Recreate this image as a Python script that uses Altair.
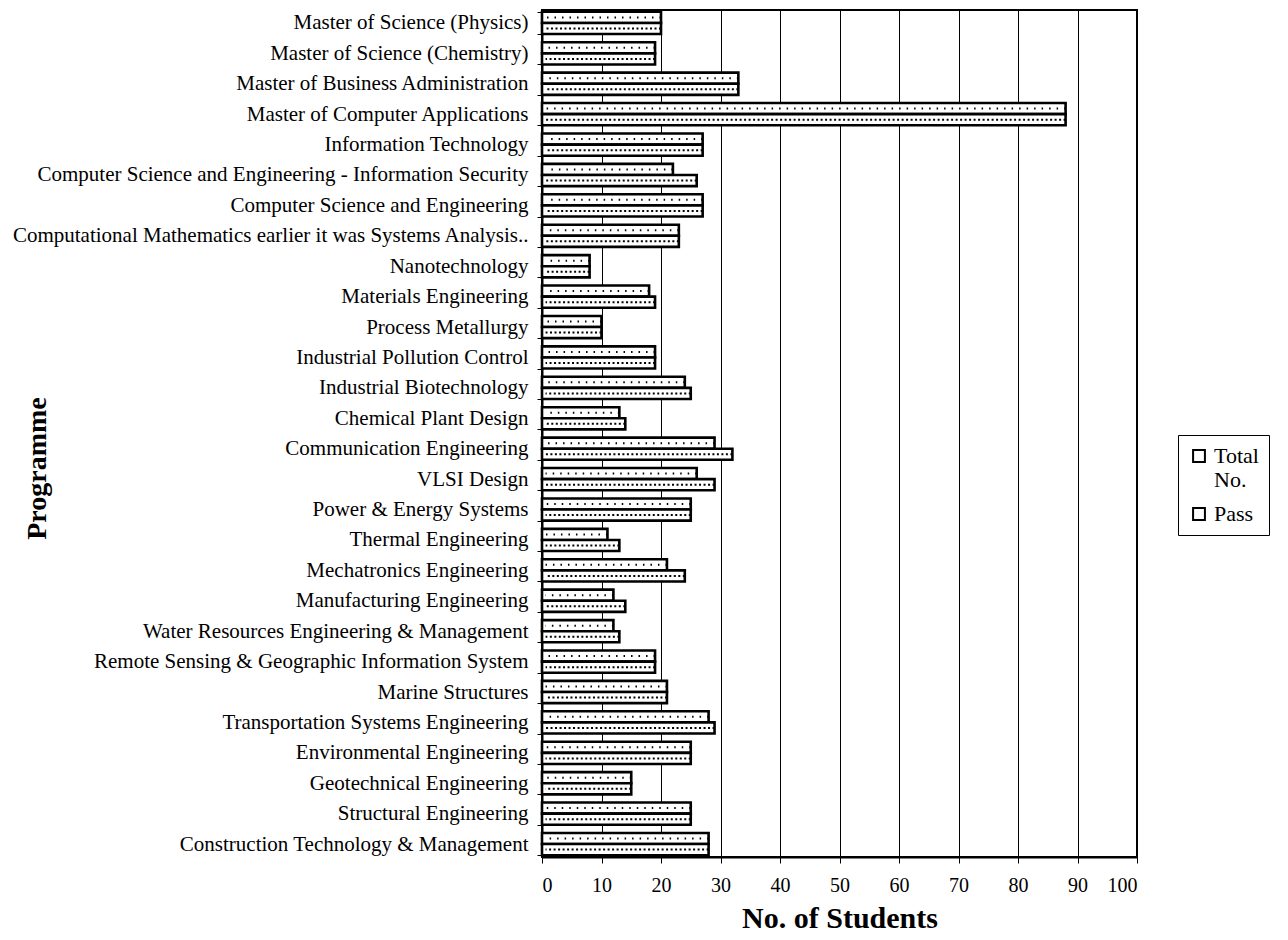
import altair as alt
import pandas as pd

programmes = [
    "Master of Science (Physics)",
    "Master of Science (Chemistry)",
    "Master of Business Administration",
    "Master of Computer Applications",
    "Information Technology",
    "Computer Science and Engineering - Information Security",
    "Computer Science and Engineering",
    "Computational Mathematics earlier it was Systems Analysis..",
    "Nanotechnology",
    "Materials Engineering",
    "Process Metallurgy",
    "Industrial Pollution Control ",
    "Industrial Biotechnology",
    "Chemical Plant Design",
    "Communication Engineering",
    "VLSI Design",
    "Power & Energy Systems",
    "Thermal Engineering",
    "Mechatronics Engineering",
    "Manufacturing Engineering",
    "Water Resources Engineering & Management",
    "Remote Sensing & Geographic Information System",
    "Marine Structures",
    "Transportation Systems Engineering",
    "Environmental Engineering",
    "Geotechnical Engineering",
    "Structural Engineering",
    "Construction Technology & Management",
]

# upper bar of each pair
pass_values = [20, 19, 33, 88, 27, 22, 27, 23, 8, 18, 10, 19, 24, 13,
               29, 26, 25, 11, 21, 12, 12, 19, 21, 28, 25, 15, 25, 28]
# lower bar of each pair
total_values = [20, 19, 33, 88, 27, 26, 27, 23, 8, 19, 10, 19, 25, 14,
                32, 29, 25, 13, 24, 14, 13, 19, 21, 29, 25, 15, 25, 28]

series_names = ["Total No.", "Pass"]
x_ticks = list(range(0, 101, 10))

rows = []
for p, pv, tv in zip(programmes, pass_values, total_values):
    rows.append({"Programme": p, "Series": "Pass", "Students": pv})
    rows.append({"Programme": p, "Series": "Total No.", "Students": tv})
df = pd.DataFrame(rows)

FONT = "Liberation Serif"

y_enc = alt.Y(
    "Programme:N",
    sort=programmes,
    scale=alt.Scale(paddingInner=0.27, paddingOuter=0.06),
    axis=alt.Axis(
        title="Programme",
        titleFont=FONT,
        titleFontSize=28,
        titleFontWeight="bold",
        titleColor="black",
        titleX=-505,
        titleY=458,
        titleAngle=-90,
        titleAlign="center",
        titleBaseline="middle",
        labelFont=FONT,
        labelFontSize=21,
        labelColor="black",
        labelLimit=800,
        labelPadding=9,
        tickBand="extent",
        tickSize=5,
        tickColor="black",
        domainColor="black",
        domainWidth=2,
    ),
)
yoff_enc = alt.YOffset(
    "Series:N",
    sort=["Pass", "Total No."],
    scale=alt.Scale(paddingInner=0, paddingOuter=0),
)
x_enc = alt.X(
    "Students:Q",
    scale=alt.Scale(domain=[0, 100], nice=False),
    axis=alt.Axis(
        values=x_ticks,
        title="No. of Students",
        titleFont=FONT,
        titleFontSize=30,
        titleFontWeight="bold",
        titleColor="black",
        titlePadding=8,
        labelFont=FONT,
        labelFontSize=20,
        labelColor="black",
        labelPadding=12,
        tickSize=6,
        tickColor="black",
        grid=True,
        gridColor="black",
        gridWidth=1,
        gridOpacity=1,
        domainColor="black",
        domainWidth=2,
    ),
)

bars = alt.Chart(df).mark_bar(stroke="black", strokeWidth=2.6).encode(
    x=x_enc,
    y=y_enc,
    yOffset=yoff_enc,
    color=alt.Color(
        "Series:N",
        scale=alt.Scale(domain=series_names, range=["white", "white"]),
        legend=alt.Legend(
            title=None,
            orient="none",
            legendX=636,
            legendY=425,
            symbolType="square",
            symbolSize=140,
            symbolStrokeColor="black",
            symbolStrokeWidth=2,
            labelFont=FONT,
            labelFontSize=22,
            labelColor="black",
            labelExpr="datum.label == 'Total No.' ? ['Total', 'No.'] : datum.label",
            strokeColor="black",
            fillColor="white",
            padding=10,
            rowPadding=12,
        ),
    ),
)

dots = alt.Chart(df).mark_rule(color="black", strokeWidth=2).encode(
    x=alt.X("Students:Q"),
    x2=alt.datum(0.6),
    y=alt.Y("Programme:N", sort=programmes),
    yOffset=alt.YOffset("Series:N", sort=["Pass", "Total No."]),
    strokeDash=alt.StrokeDash(
        "Series:N",
        scale=alt.Scale(domain=["Pass", "Total No."], range=[[1.5, 6], [2, 2.5]]),
        legend=None,
    ),
)

chart = (
    alt.layer(bars, dots)
    .properties(
        width=595,
        height=847,
        autosize=alt.AutoSizeParams(type="none"),
        padding={"top": 2, "left": 534, "right": 140, "bottom": 82},
        background="white",
    )
    .configure_view(stroke="black", strokeWidth=2)
)

chart.save("out.html", embed_options={"renderer": "svg", "actions": False})
